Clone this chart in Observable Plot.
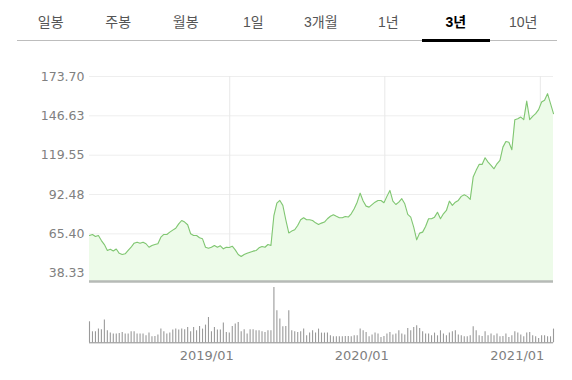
<!DOCTYPE html>
<html><head><meta charset="utf-8">
<script src="https://cdn.jsdelivr.net/npm/d3@7"></script>
<script src="https://cdn.jsdelivr.net/npm/@observablehq/plot@0.6"></script>
<style>
body{margin:0;background:#fff;width:572px;height:380px;overflow:hidden;position:relative;font-family:"Liberation Sans","Noto Sans CJK KR",sans-serif;}
#tabs{position:absolute;left:17px;top:0;width:540px;height:40px;border-bottom:1px solid #bdbdbd;display:flex;}
.tab{flex:1;text-align:center;font-size:14px;color:#555;line-height:44px;height:40px;position:relative;}
.tab.on{color:#000;font-weight:bold;}
.tab.on::after{content:"";position:absolute;left:0;right:0;bottom:-2px;height:3px;background:#000;}
#price{position:absolute;left:0;top:60px;}
#vol{position:absolute;left:0;top:285px;}
</style></head><body>
<div id="tabs"></div>
<div id="price"></div><div id="vol"></div>
<script>
const tabs = ["일봉","주봉","월봉","1일","3개월","1년","3년","10년"];
const activeTab = "3년";
const startDate = "2018-02-05"; // weekly candles
const prices = [
64.3, 65.0, 63.6, 64.3, 60.8, 58.0, 54.0, 54.8, 53.6, 55.0,
52.0, 51.2, 51.7, 54.0, 56.2, 59.0, 59.7, 59.0, 59.7, 58.6,
56.2, 57.4, 58.1, 58.6, 63.1, 65.0, 65.0, 66.6, 68.0, 69.3,
72.3, 74.6, 73.5, 71.7, 65.5, 64.3, 64.3, 62.7, 62.0, 56.2,
55.5, 56.2, 57.4, 56.2, 57.2, 55.1, 56.2, 56.0, 56.9, 54.4,
51.2, 49.8, 51.2, 52.1, 52.8, 53.5, 53.9, 55.8, 56.7, 56.2,
58.1, 57.4, 78.0, 86.5, 88.4, 85.0, 75.0, 66.0, 67.3, 68.2,
71.2, 75.1, 76.5, 75.1, 75.1, 74.6, 73.0, 71.9, 72.8, 73.5,
75.8, 77.5, 78.6, 77.5, 76.5, 76.5, 77.4, 77.0, 79.2, 82.7,
87.2, 93.4, 88.0, 84.5, 83.8, 85.5, 87.2, 88.4, 88.4, 86.8,
91.2, 95.3, 88.0, 85.6, 87.2, 89.6, 86.1, 78.8, 76.9, 70.0,
61.3, 65.9, 66.6, 70.5, 75.8, 75.8, 76.9, 80.3, 75.8, 79.2,
81.5, 87.9, 85.0, 87.2, 88.4, 91.2, 92.3, 91.2, 89.1, 104.5,
109.1, 113.2, 113.2, 117.8, 114.8, 112.5, 110.2, 113.6, 116.0, 125.1,
129.0, 128.5, 123.3, 144.0, 144.6, 145.8, 144.0, 156.8, 144.0, 146.3,
148.1, 150.9, 156.1, 157.3, 161.9, 155.0, 148.1
];
const volumes = [
21, 11, 11, 13.7, 13, 22.7, 12, 9.7, 8.7, 8.7,
9.3, 10.3, 8.7, 8.7, 11, 11, 8.7, 8.7, 8.7, 7,
9.7, 6, 6.3, 7.7, 13.7, 11, 8.7, 9.7, 12.7, 13.7,
12.7, 13.7, 13, 15.3, 11, 15.3, 12, 16.3, 13.7, 17.7,
25.3, 11, 15.3, 12.7, 12.7, 19.7, 10.3, 9.7, 16.3, 18.7,
20.3, 11, 13, 8.7, 13, 13, 12, 12, 11, 10.3,
12, 12, 55.3, 32, 23.7, 16, 16.3, 32, 12, 11,
10.3, 11, 13.7, 7, 9.7, 12, 9.7, 13.7, 9.7, 9.7,
9.7, 7, 6, 6, 6, 6, 6.3, 6.3, 6, 7,
7, 13.7, 12, 10.3, 6, 7.7, 9.7, 8.7, 5.3, 6.3,
8.7, 10.3, 7.7, 8.7, 12, 8.7, 7.7, 14.3, 12, 15.3,
17, 14.3, 11, 8.7, 8.7, 7, 9.7, 7, 12, 8.7,
7, 9.7, 11, 12, 7.7, 7, 6, 6, 7, 16,
12, 7, 6.3, 11, 7, 8.7, 7, 8.7, 6, 6.3,
8.7, 5.3, 7, 11, 9.7, 7.7, 6, 9.7, 10.3, 7,
6, 4.3, 7, 7, 6, 6, 13.7
];
const yTicks = [38.33, 65.40, 92.48, 119.55, 146.63, 173.70];
const xTicks = ["2019-01-01", "2020-01-01", "2021-01-01"];

// tabs
const tabsEl = document.getElementById("tabs");
for (const t of tabs) {
  const d = document.createElement("div");
  d.className = "tab" + (t === activeTab ? " on" : "");
  d.textContent = t;
  tabsEl.appendChild(d);
}

const start = new Date(startDate);
const data = prices.map((p, i) => ({date: d3.utcDay.offset(start, i * 7), price: p, volume: volumes[i]}));
const xDomain = [data[0].date, data[data.length - 1].date];
const tickDates = xTicks.map(d => new Date(d));
const yMin = 32.62, yMax = 173.70;

const price = Plot.plot({
  width: 572, height: 225,
  marginLeft: 89, marginRight: 19, marginTop: 16, marginBottom: 4,
  x: {type: "utc", domain: xDomain, axis: null},
  y: {domain: [yMin, yMax], axis: null},
  style: {fontFamily: "DejaVu Sans", fontSize: "12.5px", color: "#808080", background: "transparent", overflow: "visible"},
  marks: [
    Plot.ruleY(yTicks, {stroke: "#eeeeee"}),
    Plot.ruleX(tickDates, {y1: yMin, y2: yMax, stroke: "#e8e8e8"}),
    Plot.areaY(data, {x: "date", y1: yMin, y2: "price", fill: "#edfbe9"}),
    Plot.lineY(data, {x: "date", y: "price", stroke: "#80c672", strokeWidth: 1.1}),
    Plot.ruleY([yMin], {stroke: "#b6bab6", strokeWidth: 2.5}),
    Plot.axisY({ticks: yTicks, tickFormat: d => d.toFixed(2), tickSize: 0, tickPadding: 5, label: null})
  ]
});
document.getElementById("price").appendChild(price);

const vol = Plot.plot({
  width: 572, height: 95,
  marginLeft: 89, marginRight: 19, marginTop: 2, marginBottom: 37.7,
  x: {type: "utc", domain: xDomain, axis: null},
  y: {domain: [0, d3.max(volumes)], axis: null},
  style: {fontFamily: "DejaVu Sans", fontSize: "13px", color: "#808080", background: "transparent", overflow: "visible"},
  marks: [
    Plot.ruleX(data, {x: "date", y1: 0, y2: "volume", stroke: "#9a9a9a", strokeWidth: 1.1}),
    Plot.ruleY([0], {stroke: "#8a8a8a"}),
    Plot.axisX({ticks: tickDates, tickFormat: d3.utcFormat("%Y/%m"), tickSize: 0, tickPadding: 8, textAnchor: "end", dx: 4, label: null})
  ]
});
document.getElementById("vol").appendChild(vol);
</script>
</body></html>
